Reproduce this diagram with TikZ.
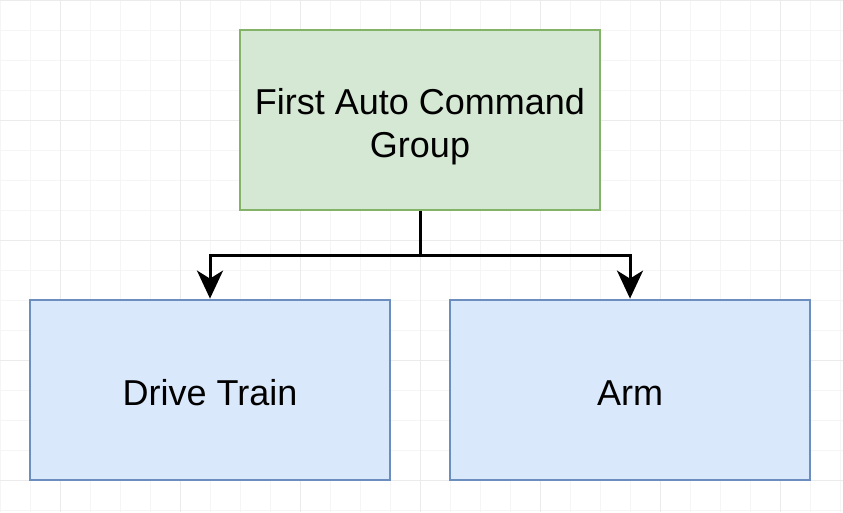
\documentclass[tikz,border=0pt]{standalone}
\usepackage{fontspec}
\setmainfont{Liberation Sans}
\usetikzlibrary{arrows.meta}
\definecolor{gfill}{HTML}{D5E8D4}
\definecolor{gline}{HTML}{82B366}
\definecolor{bfill}{HTML}{DAE8FC}
\definecolor{bline}{HTML}{6C8EBF}
\definecolor{minorg}{HTML}{F5F5F5}
\definecolor{majorg}{HTML}{EBEBEB}
\tikzset{
  boxbase/.style={rectangle, minimum width=360pt, minimum height=180pt, inner sep=0pt, align=center, line width=2.8pt, font=\fontsize{36}{43}\selectfont},
  greenbox/.style={boxbase, draw=gline, fill=gfill, text height=74pt, text depth=0pt},
  bluebox/.style={boxbase, draw=bline, fill=bfill, text height=30pt, text depth=0pt},
  conn/.style={draw=black, line width=3pt, -{Stealth[length=28pt,width=26pt,inset=8pt]}},
  minorline/.style={draw=minorg, line width=1pt},
  majorline/.style={draw=majorg, line width=1pt}
}
\begin{document}
\begin{tikzpicture}[x=1pt,y=-1pt]
\useasboundingbox (0,0) rectangle (843,512);
\fill[white] (0,0) rectangle (843,512);
\foreach \i in {0,30,...,840} { \draw[minorline] (\i,0) -- (\i,512); }
\foreach \j in {0,30,...,510} { \draw[minorline] (0,\j) -- (843,\j); }
\foreach \i in {60,180,...,840} { \draw[majorline] (\i,0) -- (\i,512); }
\foreach \j in {0,120,...,510} { \draw[majorline] (0,\j) -- (843,\j); }
\node[greenbox] (top) at (420,120) {First Auto Command\\Group};
\node[bluebox] (dt) at (210,390) {Drive Train};
\node[bluebox] (arm) at (630,390) {Arm};
\coordinate (j) at (420,255);
\draw[line width=3pt] (top.south) -- (j);
\draw[conn] (j) -| (dt.north);
\draw[conn] (j) -| (arm.north);
\end{tikzpicture}
\end{document}
